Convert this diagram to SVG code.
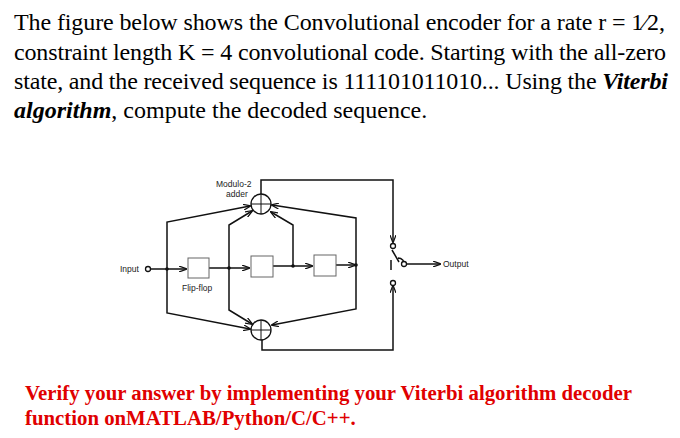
<svg xmlns="http://www.w3.org/2000/svg" width="680" height="438" viewBox="0 0 680 438">
<style>
.t{font-family:"Liberation Serif",serif;font-size:24px;fill:#000}
.r{font-family:"Liberation Serif",serif;font-size:20.8px;font-weight:bold;fill:#e00000}
.s{font-family:"Liberation Sans",sans-serif;font-size:8.5px;fill:#222}
.w{fill:none;stroke:#111;stroke-width:1.5}
.b{fill:#fff;stroke:#666;stroke-width:1}
.c{fill:#fff;stroke:#111;stroke-width:1.3}
</style>
<defs><marker id="a" markerWidth="8" markerHeight="6" refX="7" refY="3" orient="auto" markerUnits="userSpaceOnUse"><path d="M0,0L8,3L0,6" fill="none" stroke="#111" stroke-width="1.2"/></marker></defs>
<text class="t" x="14" y="30" textLength="651">The figure below shows the Convolutional encoder for a rate r = 1⁄2,</text>
<text class="t" x="14" y="60" textLength="652">constraint length K = 4 convolutional code. Starting with the all-zero</text>
<text class="t" x="14" y="89" textLength="654">state, and the received sequence is 111101011010... Using the <tspan font-weight="bold" font-style="italic">Viterbi</tspan></text>
<text class="t" x="14" y="118"><tspan font-weight="bold" font-style="italic">algorithm</tspan>, compute the decoded sequence.</text>
<text class="r" x="25" y="400">Verify your answer by implementing your Viterbi algorithm decoder</text>
<text class="r" x="25" y="425">function onMATLAB/Python/C/C++.</text>
<g id="connectors">
<path class="w" d="M151,269H186" marker-end="url(#a)"/>
<path class="w" d="M209,268H249" marker-end="url(#a)"/>
<path class="w" d="M273,266H312" marker-end="url(#a)"/>
<path class="w" d="M336,265H355" marker-end="url(#a)"/>
<path class="w" d="M167,269V222L250,206" marker-end="url(#a)"/>
<path class="w" d="M167,269V313L250,329" marker-end="url(#a)"/>
<path class="w" d="M229,268V225L252,211" marker-end="url(#a)"/>
<path class="w" d="M229,268V310L252,324" marker-end="url(#a)"/>
<path class="w" d="M293,266V225L271,212" marker-end="url(#a)"/>
<path class="w" d="M356,265V218L272,205" marker-end="url(#a)"/>
<path class="w" d="M356,265V309L272,325" marker-end="url(#a)"/>
<path class="w" d="M261,194V180H393V242" marker-end="url(#a)"/>
<path class="w" d="M262,340V350H393V286" marker-end="url(#a)"/>
<path class="w" d="M406,264H440" marker-end="url(#a)"/>
<path class="w" d="M399,262L392,250M398,258Q404,258 405,266M391,260V270"/>
</g>
<g id="input"><circle class="c" cx="148" cy="269" r="2.5"/><text class="s" x="120" y="272">Input</text></g>
<g id="ff1"><rect class="b" x="188" y="258" width="21" height="20"/><text class="s" x="182" y="291">Flip-flop</text></g>
<g id="ff2"><rect class="b" x="251" y="256" width="22" height="21"/></g>
<g id="ff3"><rect class="b" x="314" y="255" width="22" height="21"/></g>
<g id="nodes" fill="#111"><circle cx="167" cy="269" r="1.8"/><circle cx="229" cy="268" r="1.8"/><circle cx="293" cy="266" r="1.8"/><circle cx="356" cy="265" r="1.8"/></g>
<g id="adder1"><circle class="c" cx="261" cy="204" r="10"/><path d="M251,204H271M261,194V214" stroke="#111"/><text class="s" x="216" y="187">Modulo-2</text><text class="s" x="226" y="197">adder</text></g>
<g id="adder2"><circle class="c" cx="261" cy="330" r="10"/><path d="M251,330H271M261,320V340" stroke="#111"/></g>
<g id="switch"><circle class="c" cx="393" cy="246" r="2.5"/><circle class="c" cx="404" cy="264" r="2.5"/><circle class="c" cx="393" cy="283" r="2.5"/><text class="s" x="443" y="267">Output</text></g>
</svg>
